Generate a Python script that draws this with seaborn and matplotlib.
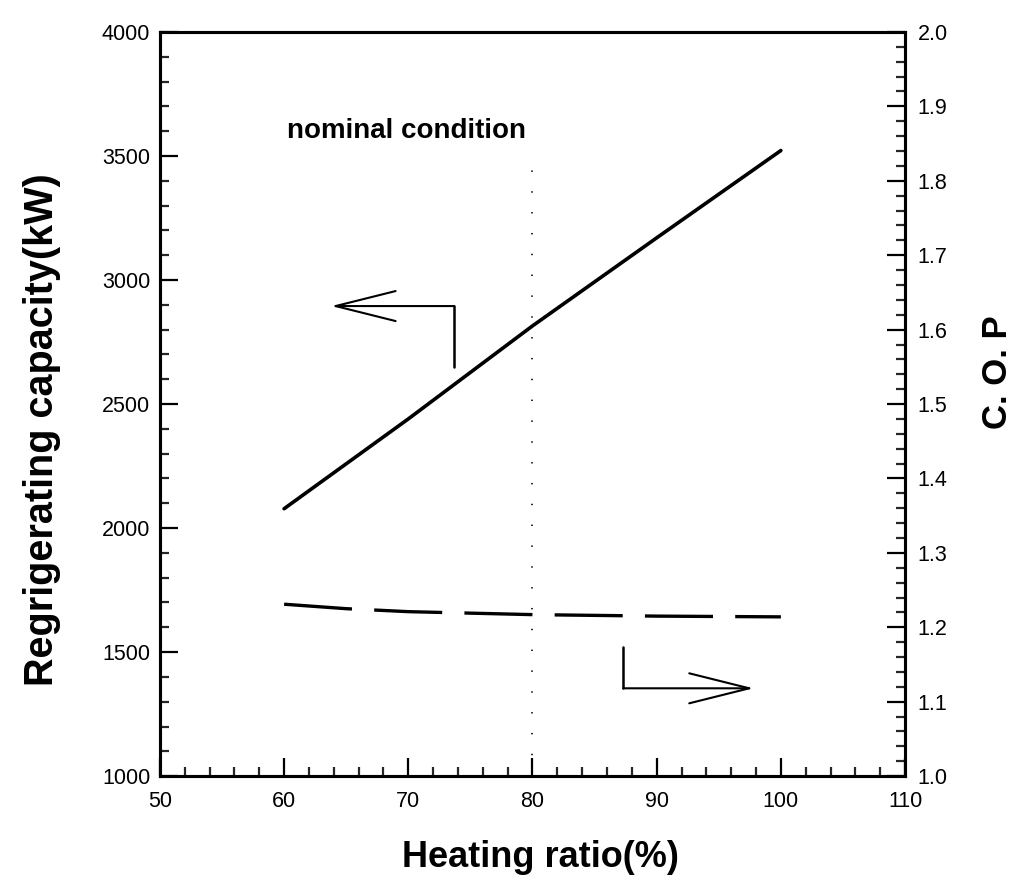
import matplotlib
matplotlib.use("Agg")
import matplotlib.pyplot as plt
from matplotlib.ticker import MultipleLocator
import seaborn as sns
import pandas as pd

# data
heating_ratio = [60, 70, 80, 90, 100]
capacity_kw = [2078, 2440, 2815, 3170, 3522]
cop_ratio = [60, 65, 70, 75, 80, 90, 100]
cop = [1.231, 1.225, 1.221, 1.219, 1.217, 1.215, 1.214]
nominal_ratio = 80

sns.set_theme(style="ticks")
plt.rcParams["font.family"] = ["Liberation Sans", "DejaVu Sans"]
plt.rcParams["lines.scale_dashes"] = False
plt.rcParams["text.color"] = "black"
plt.rcParams["axes.labelcolor"] = "black"

fig = plt.figure(figsize=(10.25, 8.88), dpi=100)
ax = fig.add_axes([0.156, 0.126, 0.727, 0.838])
ax2 = ax.twinx()

cap_df = pd.DataFrame({"ratio": heating_ratio, "cap": capacity_kw})
cop_df = pd.DataFrame({"ratio": cop_ratio, "cop": cop})

sns.lineplot(data=cap_df, x="ratio", y="cap", ax=ax, color="black", linewidth=2.6)
sns.lineplot(data=cop_df, x="ratio", y="cop", ax=ax2, color="black", linewidth=2.4)
ax2.lines[0].set_dashes((49, 16))

# dotted line at nominal condition
ax.plot([nominal_ratio, nominal_ratio], [1000, 3450], color="black",
        linewidth=1.2, linestyle=(0, (1, 14)))

ax.set_xlim(50, 110)
ax.set_ylim(1000, 4000)
ax2.set_ylim(1.0, 2.0)

ax.xaxis.set_major_locator(MultipleLocator(10))
ax.xaxis.set_minor_locator(MultipleLocator(2))
ax.yaxis.set_major_locator(MultipleLocator(500))
ax.yaxis.set_minor_locator(MultipleLocator(100))
ax2.yaxis.set_major_locator(MultipleLocator(0.1))
ax2.yaxis.set_minor_locator(MultipleLocator(0.02))
ax2.yaxis.set_major_formatter(matplotlib.ticker.FormatStrFormatter("%.1f"))

for a in (ax, ax2):
    a.tick_params(which="major", direction="in", length=13, width=1.6,
                  labelsize=15.5, colors="black")
    a.tick_params(which="minor", direction="in", length=6.5, width=1.6)
    for s in a.spines.values():
        s.set_linewidth(2.2)
        s.set_color("black")
ax.tick_params(axis="x", which="both", top=False, pad=11)
ax.tick_params(axis="y", which="both", right=False, pad=7)
ax2.tick_params(axis="y", which="both", left=False, pad=9)

ax.set_xlabel("Heating ratio(%)", fontsize=26, fontweight="bold")
ax.set_ylabel("Regrigerating capacity(kW)", fontsize=28.5, fontweight="bold")
ax2.set_ylabel("C. O. P", fontsize=25, fontweight="bold")
ax.xaxis.set_label_coords(0.51, -0.11)
ax.yaxis.set_label_coords(-0.158, 0.465)
ax2.yaxis.set_label_coords(1.124, 0.543)
ax.xaxis.label.set_va("center")
ax.yaxis.label.set_va("center")
ax2.yaxis.label.set_va("center")

ax.text(60.2, 3600, "nominal condition", fontsize=20, fontweight="bold",
        va="center", ha="left")

arrow = dict(arrowstyle="->,head_length=3.6,head_width=0.9", color="black",
             linewidth=1.5, shrinkA=0, shrinkB=0)
# left-pointing arrow for capacity
ax.plot([73.7, 73.7], [2650, 2895], color="black", linewidth=1.8)
ax.annotate("", xy=(63.8, 2895), xytext=(73.7, 2895), arrowprops=arrow)
# right-pointing arrow for COP
ax2.plot([87.3, 87.3], [1.118, 1.173], color="black", linewidth=1.8)
ax2.annotate("", xy=(97.8, 1.118), xytext=(87.3, 1.118), arrowprops=arrow)

ax.set_zorder(ax2.get_zorder() + 1)
ax.patch.set_visible(False)

fig.savefig("out.png", dpi=100)
